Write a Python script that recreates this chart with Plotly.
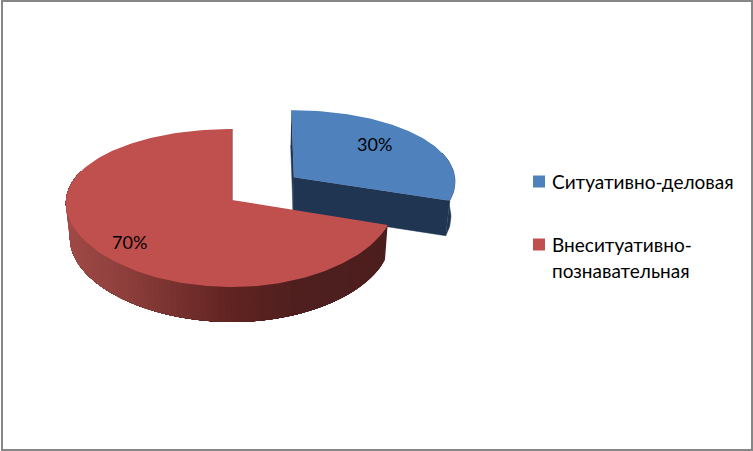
import numpy as np
import plotly.graph_objects as go

CATEGORIES = ["Ситуативно-деловая", "Внеситуативно-познавательная"]
LEGEND_LINES = [["Ситуативно-деловая"], ["Внеситуативно-", "познавательная"]]
SHARES = [30, 70]
TOP_COLORS = ["#4F81BD", "#C0504D"]
WALL_COLOR = "#1F3552"

# drawing geometry (page pixels)
APEX = (232.0, 200.0)
ASPECT_A, ASPECT_B, ASPECT_BX = 78.2, 0.101, 0.0425
X_RADIUS_LEFT = 166.0
X_RADIUS_RIGHT = [163.0, 161.5]
EXPLODE_X = [0.475, 0.0]
EXPLODE_Y = [0.51, 0.0]
DEPTH = 35.0
BASE_K, BASE_C = 0.979, 258.5
LABEL_POS = [(374, 144), (129, 242)]
LEGEND_X, LEGEND_TEXT_X = 539, 549.5
LEGEND_Y = [181.5, 244.5]
LINE_STEP = 26
FONT = "Lato, 'Open Sans', sans-serif"
RIM_STOPS = [(66, (160, 74, 71)), (130, (140, 62, 59)), (230, (98, 36, 34)),
             (300, (78, 31, 30)), (400, (76, 30, 29))]


def project(theta, r, slice_i, base=False):
    """theta: clockwise from back of the disc, radians."""
    total = sum(SHARES)
    start = sum(SHARES[:slice_i]) / total * 2 * np.pi
    mid = start + SHARES[slice_i] / total * np.pi
    s = r * np.sin(theta) + EXPLODE_X[slice_i] * np.sin(mid)
    t = -r * np.cos(theta) - EXPLODE_Y[slice_i] * np.cos(mid)
    c = np.where(s >= 0, X_RADIUS_RIGHT[slice_i], X_RADIUS_LEFT)
    x = APEX[0] + c * s / (1 - ASPECT_BX * t)
    y = APEX[1] + ASPECT_A * t / (1 - ASPECT_B * t)
    if base:
        x = BASE_C + (x - BASE_C) * BASE_K
        y = y + DEPTH
    return x, y


def poly(fig, xs, ys, color, lw=0):
    fig.add_trace(go.Scatter(
        x=list(xs), y=list(ys), mode="lines", fill="toself", fillcolor=color,
        line=dict(color=color, width=lw), hoverinfo="skip", showlegend=False))


def rim_color(x):
    xs = [p[0] for p in RIM_STOPS]
    rgb = [np.interp(x, xs, [p[1][i] for p in RIM_STOPS]) for i in range(3)]
    return "rgb(%d,%d,%d)" % tuple(int(round(v)) for v in rgb)


fig = go.Figure()
total = sum(SHARES)
edges = np.cumsum([0] + SHARES) / total * 2 * np.pi

# blue slice: inner wall, end wall, rim, then top
a0, a1 = edges[0], edges[1]
for ang in (a0, a1):
    tx, ty = project(np.array([ang, ang]), np.array([1.0, 0.0]), 0)
    bx, by = project(np.array([ang, ang]), np.array([0.0, 1.0]), 0, base=True)
    poly(fig, np.r_[tx, bx], np.r_[ty, by], WALL_COLOR, 0.5)
rim = np.linspace(np.radians(70), a1, 20)
tx, ty = project(rim, np.ones_like(rim), 0)
bx, by = project(rim, np.ones_like(rim), 0, base=True)
poly(fig, np.r_[tx, bx[::-1]], np.r_[ty, by[::-1]], WALL_COLOR, 0.5)
arc = np.linspace(a0, a1, 90)
tx, ty = project(arc, np.ones_like(arc), 0)
ax, ay = project(np.array([0.0]), np.array([0.0]), 0)
poly(fig, np.r_[ax, tx], np.r_[ay, ty], TOP_COLORS[0])

# red slice: rim painted from the far end inward, each band overlapping the next, so no seams
a0, a1 = edges[1], edges[2]
rim_end = np.radians(292)
starts = np.linspace(a0, rim_end, 90)[:-1]
for u in starts:
    th = np.linspace(u, rim_end, 40)
    tx, ty = project(th, np.ones_like(th), 1)
    bx, by = project(th, np.ones_like(th), 1, base=True)
    col_x, _ = project(np.array([u]), np.ones(1), 1)
    poly(fig, np.r_[tx, bx[::-1]], np.r_[ty, by[::-1]], rim_color(col_x[0]))
arc = np.linspace(a0, a1, 180)
tx, ty = project(arc, np.ones_like(arc), 1)
ax, ay = project(np.array([0.0]), np.array([0.0]), 1)
poly(fig, np.r_[ax, tx], np.r_[ay, ty], TOP_COLORS[1])
ex, ey = project(np.array([a1, a1]), np.array([1.0, 0.0]), 1)
fig.add_trace(go.Scatter(x=ex + 0.2, y=ey, mode="lines", line=dict(color="#9A5350", width=1),
                         hoverinfo="skip", showlegend=False))

# legend keys
fig.add_trace(go.Scatter(
    x=[LEGEND_X] * 2, y=LEGEND_Y, mode="markers",
    marker=dict(symbol="square", size=12, color=TOP_COLORS, line=dict(width=0)),
    hoverinfo="skip", showlegend=False))

annotations = []
for (lx, ly), v in zip(LABEL_POS, SHARES):
    annotations.append(dict(x=lx, y=ly, text=f"{v}%", showarrow=False,
                            font=dict(family=FONT, size=18, color="#000000")))
for lines, ly in zip(LEGEND_LINES, LEGEND_Y):
    for i, line in enumerate(lines):
        annotations.append(dict(x=LEGEND_TEXT_X, y=ly + i * LINE_STEP, text=line, showarrow=False,
                                xanchor="left", font=dict(family=FONT, size=19, color="#000000")))

fig.update_layout(
    width=753, height=451, margin=dict(l=0, r=0, t=0, b=0),
    paper_bgcolor="#FFFFFF", plot_bgcolor="#FFFFFF", showlegend=False,
    xaxis=dict(range=[0, 753], visible=False, fixedrange=True),
    yaxis=dict(range=[451, 0], visible=False, fixedrange=True),
    annotations=annotations,
    shapes=[dict(type="rect", x0=2, x1=752, y0=1, y1=450,
                 line=dict(color="#868686", width=2), layer="above")],
)
fig.write_html("out.html", config={"displayModeBar": False},
               post_script="document.body.style.margin='0';document.documentElement.style.overflow='hidden';")
